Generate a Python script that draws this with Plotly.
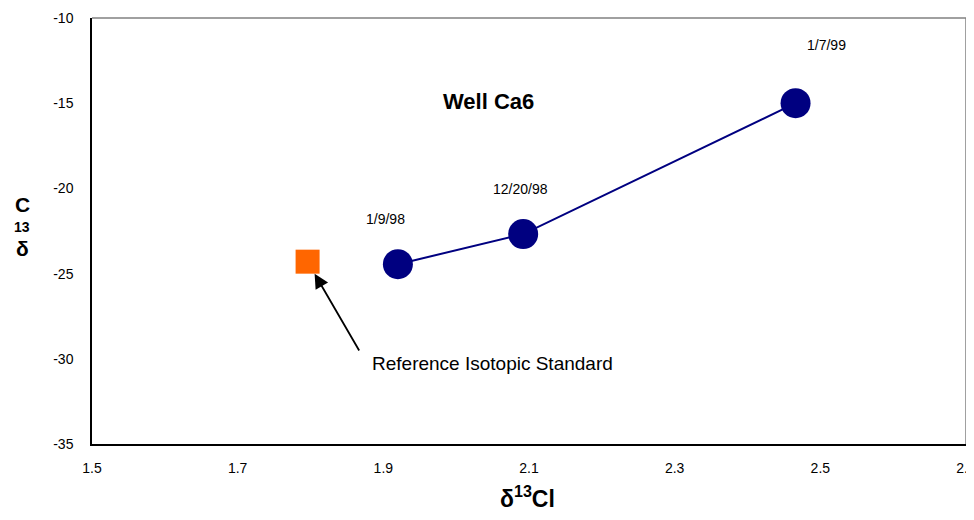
import plotly.graph_objects as go

# data
well_x = [1.92, 2.092, 2.466]
well_y = [-24.45, -22.68, -15.0]
dates = ["1/9/98", "12/20/98", "1/7/99"]
date_x = [1.903, 2.088, 2.509]
date_y = [-21.8, -20.05, -11.6]

std_x = [1.796]
std_y = [-24.3]
std_label = "Reference Isotopic Standard"

x_ticks = [1.5, 1.7, 1.9, 2.1, 2.3, 2.5, 2.7]
y_ticks = [-35, -30, -25, -20, -15, -10]

font = "Liberation Sans, Arial, sans-serif"

fig = go.Figure()

fig.add_trace(
    go.Scatter(x=well_x, y=well_y, mode="lines+markers",
               line=dict(color="#000080", width=2),
               marker=dict(color="#000080", size=30, symbol="circle"),
               showlegend=False)
)

fig.add_trace(
    go.Scatter(x=std_x, y=std_y, mode="markers",
               marker=dict(color="#FF6600", size=24, symbol="square"),
               showlegend=False)
)

for d, dx, dy in zip(dates, date_x, date_y):
    fig.add_annotation(x=dx, y=dy, text=d, showarrow=False,
                       font=dict(family=font, size=14, color="black"))

fig.add_annotation(x=2.045, y=-14.9, text="<b>Well Ca6</b>", showarrow=False,
                   font=dict(family=font, size=22, color="black"))

# arrow to the standard
fig.add_annotation(x=std_x[0], y=std_y[0], ax=1.868, ay=-29.6,
                   axref="x", ayref="y", text="", showarrow=True,
                   arrowhead=2, arrowsize=1.6, arrowwidth=1.8, arrowcolor="black",
                   standoff=14)
fig.add_annotation(x=2.05, y=-30.3, text=std_label, showarrow=False,
                   font=dict(family=font, size=19, color="black"))

# axis titles
fig.add_annotation(xref="paper", yref="paper", x=0.498, y=0, yshift=-53,
                   xanchor="center", yanchor="middle",
                   text="<b>δ<sup>13</sup>Cl</b>", showarrow=False,
                   font=dict(family=font, size=23, color="black"))
# y title drawn as stacked upright glyphs, like the original
for txt, yy, sz in [("C", 0.563, 21), ("13", 0.509, 14), ("δ", 0.458, 21)]:
    fig.add_annotation(xref="paper", yref="paper", x=0, xshift=-70, y=yy,
                       xanchor="center", yanchor="middle",
                       text="<b>" + txt + "</b>", showarrow=False,
                       font=dict(family=font, size=sz, color="black"))

# top/right frame
fig.add_shape(type="line", xref="paper", yref="paper", x0=0, x1=1, y0=1, y1=1,
              line=dict(color="#808080", width=1.5))
fig.add_shape(type="line", xref="paper", yref="paper", x0=1, x1=1, y0=0, y1=1,
              line=dict(color="#808080", width=1.5))

fig.update_layout(
    width=966,
    height=504,
    margin=dict(l=84, r=8, t=10, b=68),
    plot_bgcolor="white",
    paper_bgcolor="white",
    font=dict(family=font, size=14, color="black"),
    xaxis=dict(range=[1.5, 2.7], tickvals=x_ticks,
               ticktext=[str(v) for v in x_ticks],
               showgrid=False, zeroline=False, showline=True,
               linecolor="black", linewidth=1.5, ticks="",
               ticklabelstandoff=10, automargin=False,
               ticklabeloverflow="allow"),
    yaxis=dict(range=[-35, -10], tickvals=y_ticks,
               ticktext=[str(v) for v in y_ticks],
               showgrid=False, zeroline=False, showline=True,
               linecolor="black", linewidth=1.5, ticks="",
               ticklabelstandoff=14, automargin=False),
)

fig.write_html("out.html")
